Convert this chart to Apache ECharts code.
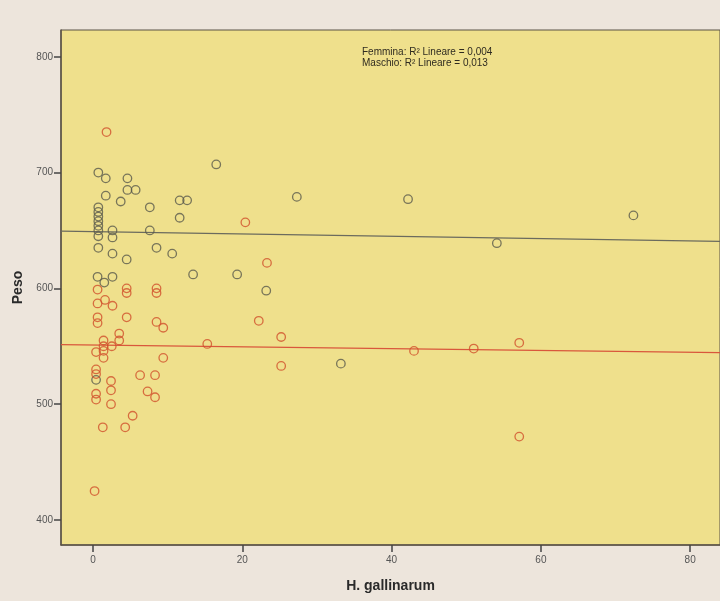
<!DOCTYPE html>
<html>
<head>
<meta charset="utf-8">
<script src="https://cdn.jsdelivr.net/npm/echarts@6/dist/echarts.min.js"></script>
<style>
html,body{margin:0;padding:0;background:#ede5dc;}
#c{width:720px;height:601px;}
</style>
</head>
<body>
<div id="c"></div>
<script>
// Data
const yTicks = [400, 500, 600, 700, 800];
const xTicks = [0, 20, 40, 60, 80];

// Maschio (grey circles)
const masX = [16.5,0.7,1.7,4.6,4.6,5.7,1.7,3.7,7.6,11.6,12.6,11.6,
  0.7,0.7,0.7,0.7,0.7,0.7,0.7,
  2.6,2.6,7.6,0.7,8.5,2.6,10.6,4.5,
  0.6,1.5,2.6,13.4,19.3,
  27.3,23.2,33.2,42.2,72.4,54.1,0.4];
const masY = [707,700,695,695,685,685,680,675,670,676,676,661,
  670,666,662,658,654,650,645,
  650,644,650,635,635,630,630,625,
  610,605,610,612,612,
  679,598,535,677,663,639,521];

// Femmina (red circles)
const femX = [1.8,20.4,0.6,4.5,4.5,8.5,8.5,
  23.3,22.2,25.2,15.3,25.2,
  43,51,57.1,57.1,
  0.6,1.6,2.6,0.6,0.6,4.5,8.5,9.4,
  3.5,3.5,1.4,1.4,1.4,1.4,2.5,0.4,9.4,
  0.4,0.4,2.4,2.4,0.4,0.4,6.3,8.3,7.3,8.3,2.4,5.3,1.3,4.3,0.2];
const femY = [735,657,599,600,596,600,596,
  622,572,558,552,533,
  546,548,553,472,
  587,590,585,575,570,575,571,566,
  561,555,555,550,546,540,550,545,540,
  530,526,520,512,509,504,525,525,511,506,500,490,480,480,425];

// Linear fit lines (endpoints)
const fitX = [-4.3, 84];
const masFit = [649.5, 640.5];
const femFit = [551.5, 544.5];

const annotation = ['Femmina: R² Lineare = 0,004', 'Maschio: R² Lineare = 0,013'];

const zip = (a, b) => a.map((v, i) => [v, b[i]]);

const chart = echarts.init(document.getElementById('c'), null, {renderer: 'canvas'});
const font = 'Liberation Sans, Arial, sans-serif';
chart.setOption({
  backgroundColor: '#ede5dc',
  animation: false,
  grid: {left: 61, right: 0, top: 30, bottom: 56, show: true,
    backgroundColor: '#efe08c', borderColor: '#5b5347', borderWidth: 1},
  xAxis: {
    type: 'value', min: -4.3, max: 84,
    name: 'H. gallinarum', nameLocation: 'middle', nameGap: 34,
    nameTextStyle: {fontFamily: font, fontSize: 14, fontWeight: 'bold', color: '#2a2a2a'},
    axisLine: {show: true, onZero: false, lineStyle: {color: '#5b5347', width: 1.5}},
    axisTick: {show: true, length: 7, customValues: xTicks, lineStyle: {color: '#444', width: 1.5}},
    axisLabel: {customValues: xTicks, fontFamily: font, fontSize: 10, color: '#555', margin: 10},
    splitLine: {show: false}
  },
  yAxis: {
    type: 'value', min: 378.4, max: 823.1,
    name: 'Peso', nameLocation: 'middle', nameGap: 35, nameRotate: 90,
    nameTextStyle: {fontFamily: font, fontSize: 14, fontWeight: 'bold', color: '#2a2a2a'},
    axisLine: {show: true, onZero: false, lineStyle: {color: '#5b5347', width: 1.5}},
    axisTick: {show: true, length: 7, customValues: yTicks, lineStyle: {color: '#444', width: 1.5}},
    axisLabel: {customValues: yTicks, fontFamily: font, fontSize: 10, color: '#555', margin: 8},
    splitLine: {show: false}
  },
  graphic: [{
    type: 'text', left: 362, top: 47,
    style: {text: annotation.join('\n'), font: '10px ' + font, fill: '#2f2b20', lineHeight: 11}
  }],
  series: [
    {name: 'Maschio fit', type: 'line', data: zip(fitX, masFit), symbol: 'none',
      lineStyle: {color: '#6b6b5e', width: 1.3}, z: 1},
    {name: 'Femmina fit', type: 'line', data: zip(fitX, femFit), symbol: 'none',
      lineStyle: {color: '#d9573c', width: 1.3}, z: 1},
    {name: 'Maschio', type: 'scatter', data: zip(masX, masY), symbol: 'circle', symbolSize: 8.5,
      itemStyle: {color: 'rgba(0,0,0,0)', borderColor: '#5a5a4c', borderWidth: 1.3}, z: 3},
    {name: 'Femmina', type: 'scatter', data: zip(femX, femY), symbol: 'circle', symbolSize: 8.5,
      itemStyle: {color: 'rgba(0,0,0,0)', borderColor: '#d1502c', borderWidth: 1.3}, z: 3}
  ]
});
</script>
</body>
</html>
